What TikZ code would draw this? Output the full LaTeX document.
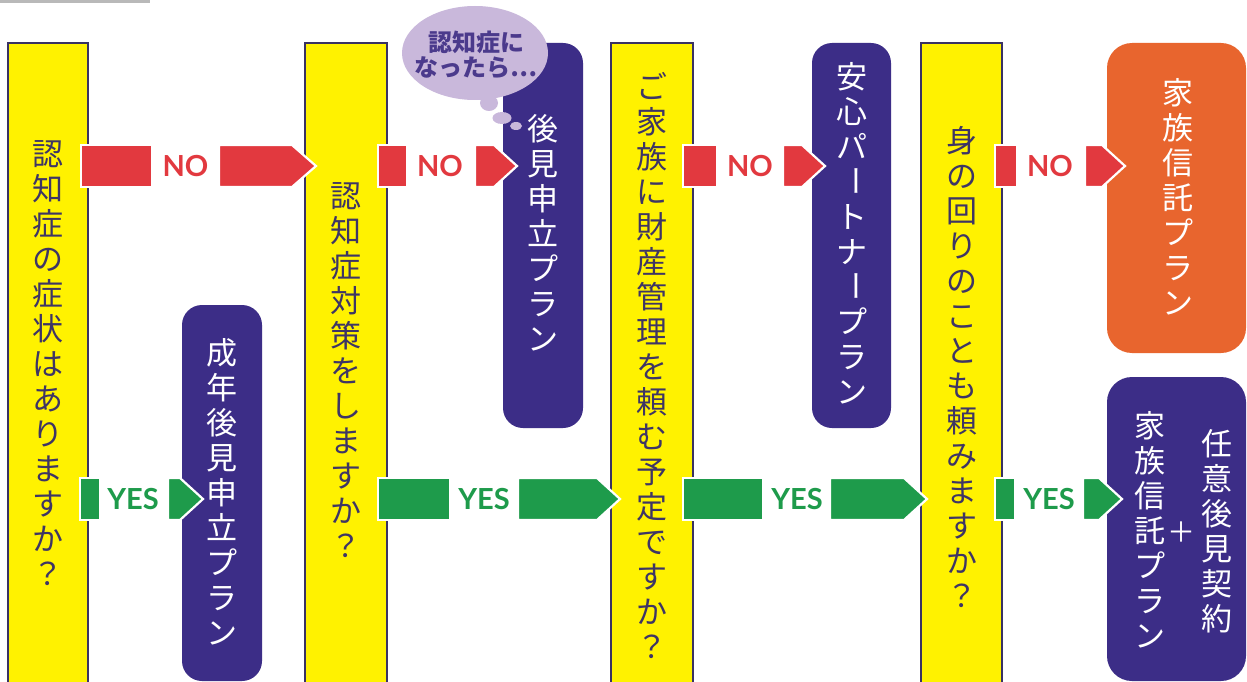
\documentclass[tikz,border=0pt]{standalone}
\usepackage{fontspec}
\usetikzlibrary{shapes.geometric}
\newfontfamily\jp{Noto Sans CJK JP}
\newfontfamily\lato{Lato}
\definecolor{qyellow}{HTML}{FFF200}
\definecolor{colborder}{HTML}{3A3262}
\definecolor{coltext}{HTML}{3E3565}
\definecolor{plumb}{HTML}{3C2D87}
\definecolor{orangebox}{HTML}{E8652E}
\definecolor{nored}{HTML}{E2393F}
\definecolor{yesgreen}{HTML}{1E9B4B}
\definecolor{bubblefill}{HTML}{C9B8DB}
\definecolor{bubbletext}{HTML}{4B3A8C}
\newcommand{\vbar}{\raisebox{0.17em}{\rotatebox[origin=c]{-90}{ー}}}
\begin{document}
\begin{tikzpicture}[x=1pt,y=-1pt,
  qcol/.style={draw=colborder, line width=1.3pt, fill=qyellow, minimum height=647pt, inner sep=0pt},
  pbox/.style={fill=plumb, rounded corners=20pt, inner sep=0pt, minimum width=80pt},
  obox/.style={fill=orangebox, rounded corners=25pt, inner sep=0pt},
  vtext/.style={align=center, inner sep=0pt, font=\jp\fontsize{31}{35}\selectfont},
  qtext/.style={vtext, text=coltext},
  ptext/.style={vtext, text=white},
  arr/.style={draw=white, line width=2.2pt, line join=miter},
  noarr/.style={arr, fill=nored},
  yesarr/.style={arr, fill=yesgreen},
  lab/.style={inner sep=0pt, font=\lato\bfseries\fontsize{29}{29}\selectfont},
  nolab/.style={lab, text=nored},
  yeslab/.style={lab, text=yesgreen},
  bub/.style={fill=bubblefill}
]
\useasboundingbox (0,0) rectangle (1247,682);
\fill[white] (0,0) rectangle (1247,682);
\fill[gray!55] (0,0) rectangle (150,3);

% question columns
\node[qcol, minimum width=80pt] (q1) at (48,366.5) {};
\node[qcol, minimum width=82pt] (q2) at (346,366.5) {};
\node[qcol, minimum width=82pt] (q3) at (652,366.5) {};
\node[qcol, minimum width=81pt] (q4) at (961.5,366.5) {};

% result boxes
\node[pbox, minimum height=376pt] (p1) at (222,493) {};
\node[pbox, minimum height=385pt] (p2) at (543,235.5) {};
\node[pbox, minimum width=79pt, minimum height=385pt] (p3) at (851.5,235.5) {};
\node[obox, minimum width=139pt, minimum height=310pt] (o1) at (1176.5,198) {};
\node[pbox, rounded corners=25pt, minimum width=139pt, minimum height=304pt] (p4) at (1176.5,529) {};

% thought bubble
\node[ellipse, bub, minimum width=146pt, minimum height=94pt, inner sep=0pt] (bub) at (475,53) {};
\fill[bub] (489,103) ellipse [x radius=9pt, y radius=8pt];
\node[ellipse, bub, minimum width=19pt, minimum height=12pt, inner sep=0pt] (bub1) at (502,118) {};
\node[ellipse, bub, minimum width=12pt, minimum height=8pt, inner sep=0pt] (bub2) at (516,126) {};
\node[align=center, inner sep=0pt, text=bubbletext, font=\jp\bfseries\fontsize{24}{25}\selectfont] (bubt) at (476,55) {認知症に\\なったら…};

% NO arrows
\draw[noarr] (81,145) rectangle (152,187);
\draw[noarr] (219,145) -- (292,145) -- (316,166) -- (292,187) -- (219,187) -- cycle;
\node[nolab] (n1) at (185.5,166) {NO};

\draw[noarr] (378,145) rectangle (407,187);
\draw[noarr] (475,145) -- (494,145) -- (517,166) -- (494,187) -- (475,187) -- cycle;
\node[nolab] (n2) at (440,166) {NO};

\draw[noarr] (683,145) rectangle (717,187);
\draw[noarr] (783,145) -- (802,145) -- (825,166) -- (802,187) -- (783,187) -- cycle;
\node[nolab] (n3) at (750,166) {NO};

\draw[noarr] (995,145) rectangle (1017,187);
\draw[noarr] (1085,145) -- (1102,145) -- (1125,166) -- (1102,187) -- (1085,187) -- cycle;
\node[nolab] (n4) at (1050,166) {NO};

% YES arrows
\draw[yesarr] (80,478) rectangle (100,520);
\draw[yesarr] (168,478) -- (180,478) -- (203,499) -- (180,520) -- (168,520) -- cycle;
\node[yeslab] (y1) at (133,499) {YES};

\draw[yesarr] (378,478) rectangle (450,520);
\draw[yesarr] (518,478) -- (597,478) -- (620,499) -- (597,520) -- (518,520) -- cycle;
\node[yeslab] (y2) at (484,499) {YES};

\draw[yesarr] (683,478) rectangle (763,520);
\draw[yesarr] (830,478) -- (904,478) -- (927,499) -- (904,520) -- (830,520) -- cycle;
\node[yeslab] (y3) at (797,499) {YES};

\draw[yesarr] (995,478) rectangle (1015,520);
\draw[yesarr] (1083,478) -- (1099,478) -- (1122,499) -- (1099,520) -- (1083,520) -- cycle;
\node[yeslab] (y4) at (1049,499) {YES};

% question texts
\node[qtext] (t1) at (48,363) {認\\知\\症\\の\\症\\状\\は\\あ\\り\\ま\\す\\か\\？};
\node[qtext] (t2) at (346,370) {認\\知\\症\\対\\策\\を\\し\\ま\\す\\か\\？};
\node[qtext] (t3) at (652,366) {ご\\家\\族\\に\\財\\産\\管\\理\\を\\頼\\む\\予\\定\\で\\す\\か\\？};
\node[qtext] (t4) at (962,367) {身\\の\\回\\り\\の\\こ\\と\\も\\頼\\み\\ま\\す\\か\\？};

% result texts
\node[ptext] (r1) at (222,492) {成\\年\\後\\見\\申\\立\\プ\\ラ\\ン};
\node[ptext] (r2) at (543,233) {後\\見\\申\\立\\プ\\ラ\\ン};
\node[ptext] (r3) at (851.5,233) {安\\心\\パ\\\vbar\\ト\\ナ\\\vbar\\プ\\ラ\\ン};
\node[ptext] (r4) at (1178,197) {家\\族\\信\\託\\プ\\ラ\\ン};
\node[ptext] (r5) at (1217,531) {任\\意\\後\\見\\契\\約};
\node[ptext] (r6) at (1150,530) {家\\族\\信\\託\\プ\\ラ\\ン};
\node[inner sep=0pt, text=white, font=\jp\fontsize{28}{30}\selectfont] (plus) at (1181,532) {＋};
\end{tikzpicture}
\end{document}
